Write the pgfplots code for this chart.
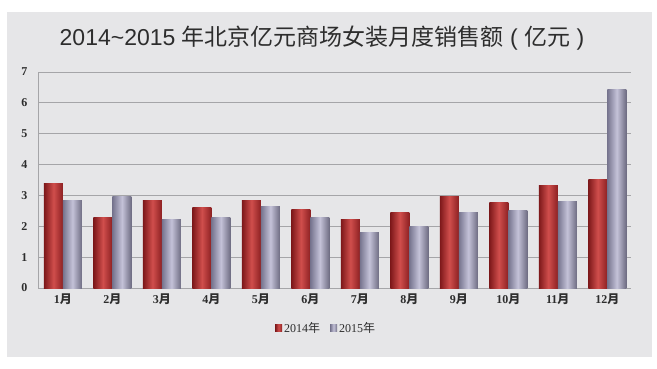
\documentclass[border=0pt]{standalone}
\usepackage{pgfplots}
\pgfplotsset{compat=1.18}
\usepackage{fontspec}
\setmainfont{Liberation Serif}
\newfontfamily\cjk{Noto Sans CJK SC}
\newfontfamily\sans{Liberation Sans}
\definecolor{panel}{RGB}{230,230,232}
\definecolor{gridc}{RGB}{165,165,168}
\definecolor{rdark}{RGB}{125,24,26}
\definecolor{rmid}{RGB}{208,78,76}
\definecolor{rright}{RGB}{140,32,34}
\definecolor{gdark}{RGB}{118,116,142}
\definecolor{gmid}{RGB}{196,194,216}
\definecolor{gright}{RGB}{110,108,130}
\definecolor{txt}{RGB}{45,45,45}
\newcommand{\m}[1]{\textbf{#1}{\cjk\bfseries 月}}
\pgfplotsset{
  redbar/.style={ybar, bar width=19pt, bar shift=-9.5pt, draw=none, left color=rdark, right color=rright, middle color=rmid},
  greybar/.style={ybar, bar width=19pt, bar shift=9.5pt, draw=none, left color=gdark, right color=gright, middle color=gmid},
}
\newcommand{\rb}[2]{\addplot[redbar, forget plot] coordinates {(#1,#2)};}
\newcommand{\gb}[2]{\addplot[greybar, forget plot] coordinates {(#1,#2)};}
\begin{document}
\begin{tikzpicture}
\useasboundingbox (0pt,0pt) rectangle (657pt,368pt);
\fill[white] (0pt,0pt) rectangle (657pt,368pt);
\fill[panel] (7pt,11pt) rectangle (652pt,356pt);
\node[font=\fontsize{23}{25}\selectfont, text=txt] at (322pt,330pt) {{\sans 2014\textasciitilde2015 }{\cjk 年北京亿元商场女装月度销售额}{\sans\ ( }{\cjk 亿元}{\sans\ )}};
\begin{axis}[
  at={(38pt,80pt)}, anchor=south west,
  scale only axis, width=593pt, height=216pt,
  xmin=-0.505, xmax=11.48, ymin=0, ymax=7,
  axis x line*=bottom, axis y line*=left,
  axis line style={draw=gridc, line width=1pt},
  ymajorgrids, grid style={draw=gridc, line width=1pt},
  major tick length=0pt,
  xtick={0,...,11},
  xticklabels={\m{1},\m{2},\m{3},\m{4},\m{5},\m{6},\m{7},\m{8},\m{9},\m{10},\m{11},\m{12}},
  ytick={0,...,7},
  yticklabels={\textbf{0},\textbf{1},\textbf{2},\textbf{3},\textbf{4},\textbf{5},\textbf{6},\textbf{7}},
  ticklabel style={font=\fontsize{12}{13}\selectfont, text=txt},
  yticklabel style={xshift=-7pt},
  xticklabel style={yshift=-2pt},
  legend style={at={(0.486,-0.185)}, anchor=center, legend columns=2, draw=none, fill=none,
    font=\fontsize{12}{13}\selectfont, text=txt,
    /tikz/every even column/.append style={column sep=8pt}},
  legend image code/.code={\path[#1] (0pt,-3.5pt) rectangle (7pt,3.5pt);},
]
% 2014
\rb{0}{3.38}\rb{1}{2.29}\rb{2}{2.85}\rb{3}{2.60}\rb{4}{2.83}\rb{5}{2.53}
\rb{6}{2.22}\rb{7}{2.44}\rb{8}{2.97}\rb{9}{2.77}\rb{10}{3.31}\rb{11}{3.52}
% 2015
\gb{0}{2.85}\gb{1}{2.98}\gb{2}{2.22}\gb{3}{2.29}\gb{4}{2.63}\gb{5}{2.29}
\gb{6}{1.79}\gb{7}{1.98}\gb{8}{2.44}\gb{9}{2.52}\gb{10}{2.80}\gb{11}{6.43}
\addlegendimage{draw=none, left color=rdark, right color=rright, middle color=rmid}
\addlegendentry{2014{\cjk 年}}
\addlegendimage{draw=none, left color=gdark, right color=gright, middle color=gmid}
\addlegendentry{2015{\cjk 年}}
\end{axis}
\end{tikzpicture}
\end{document}
